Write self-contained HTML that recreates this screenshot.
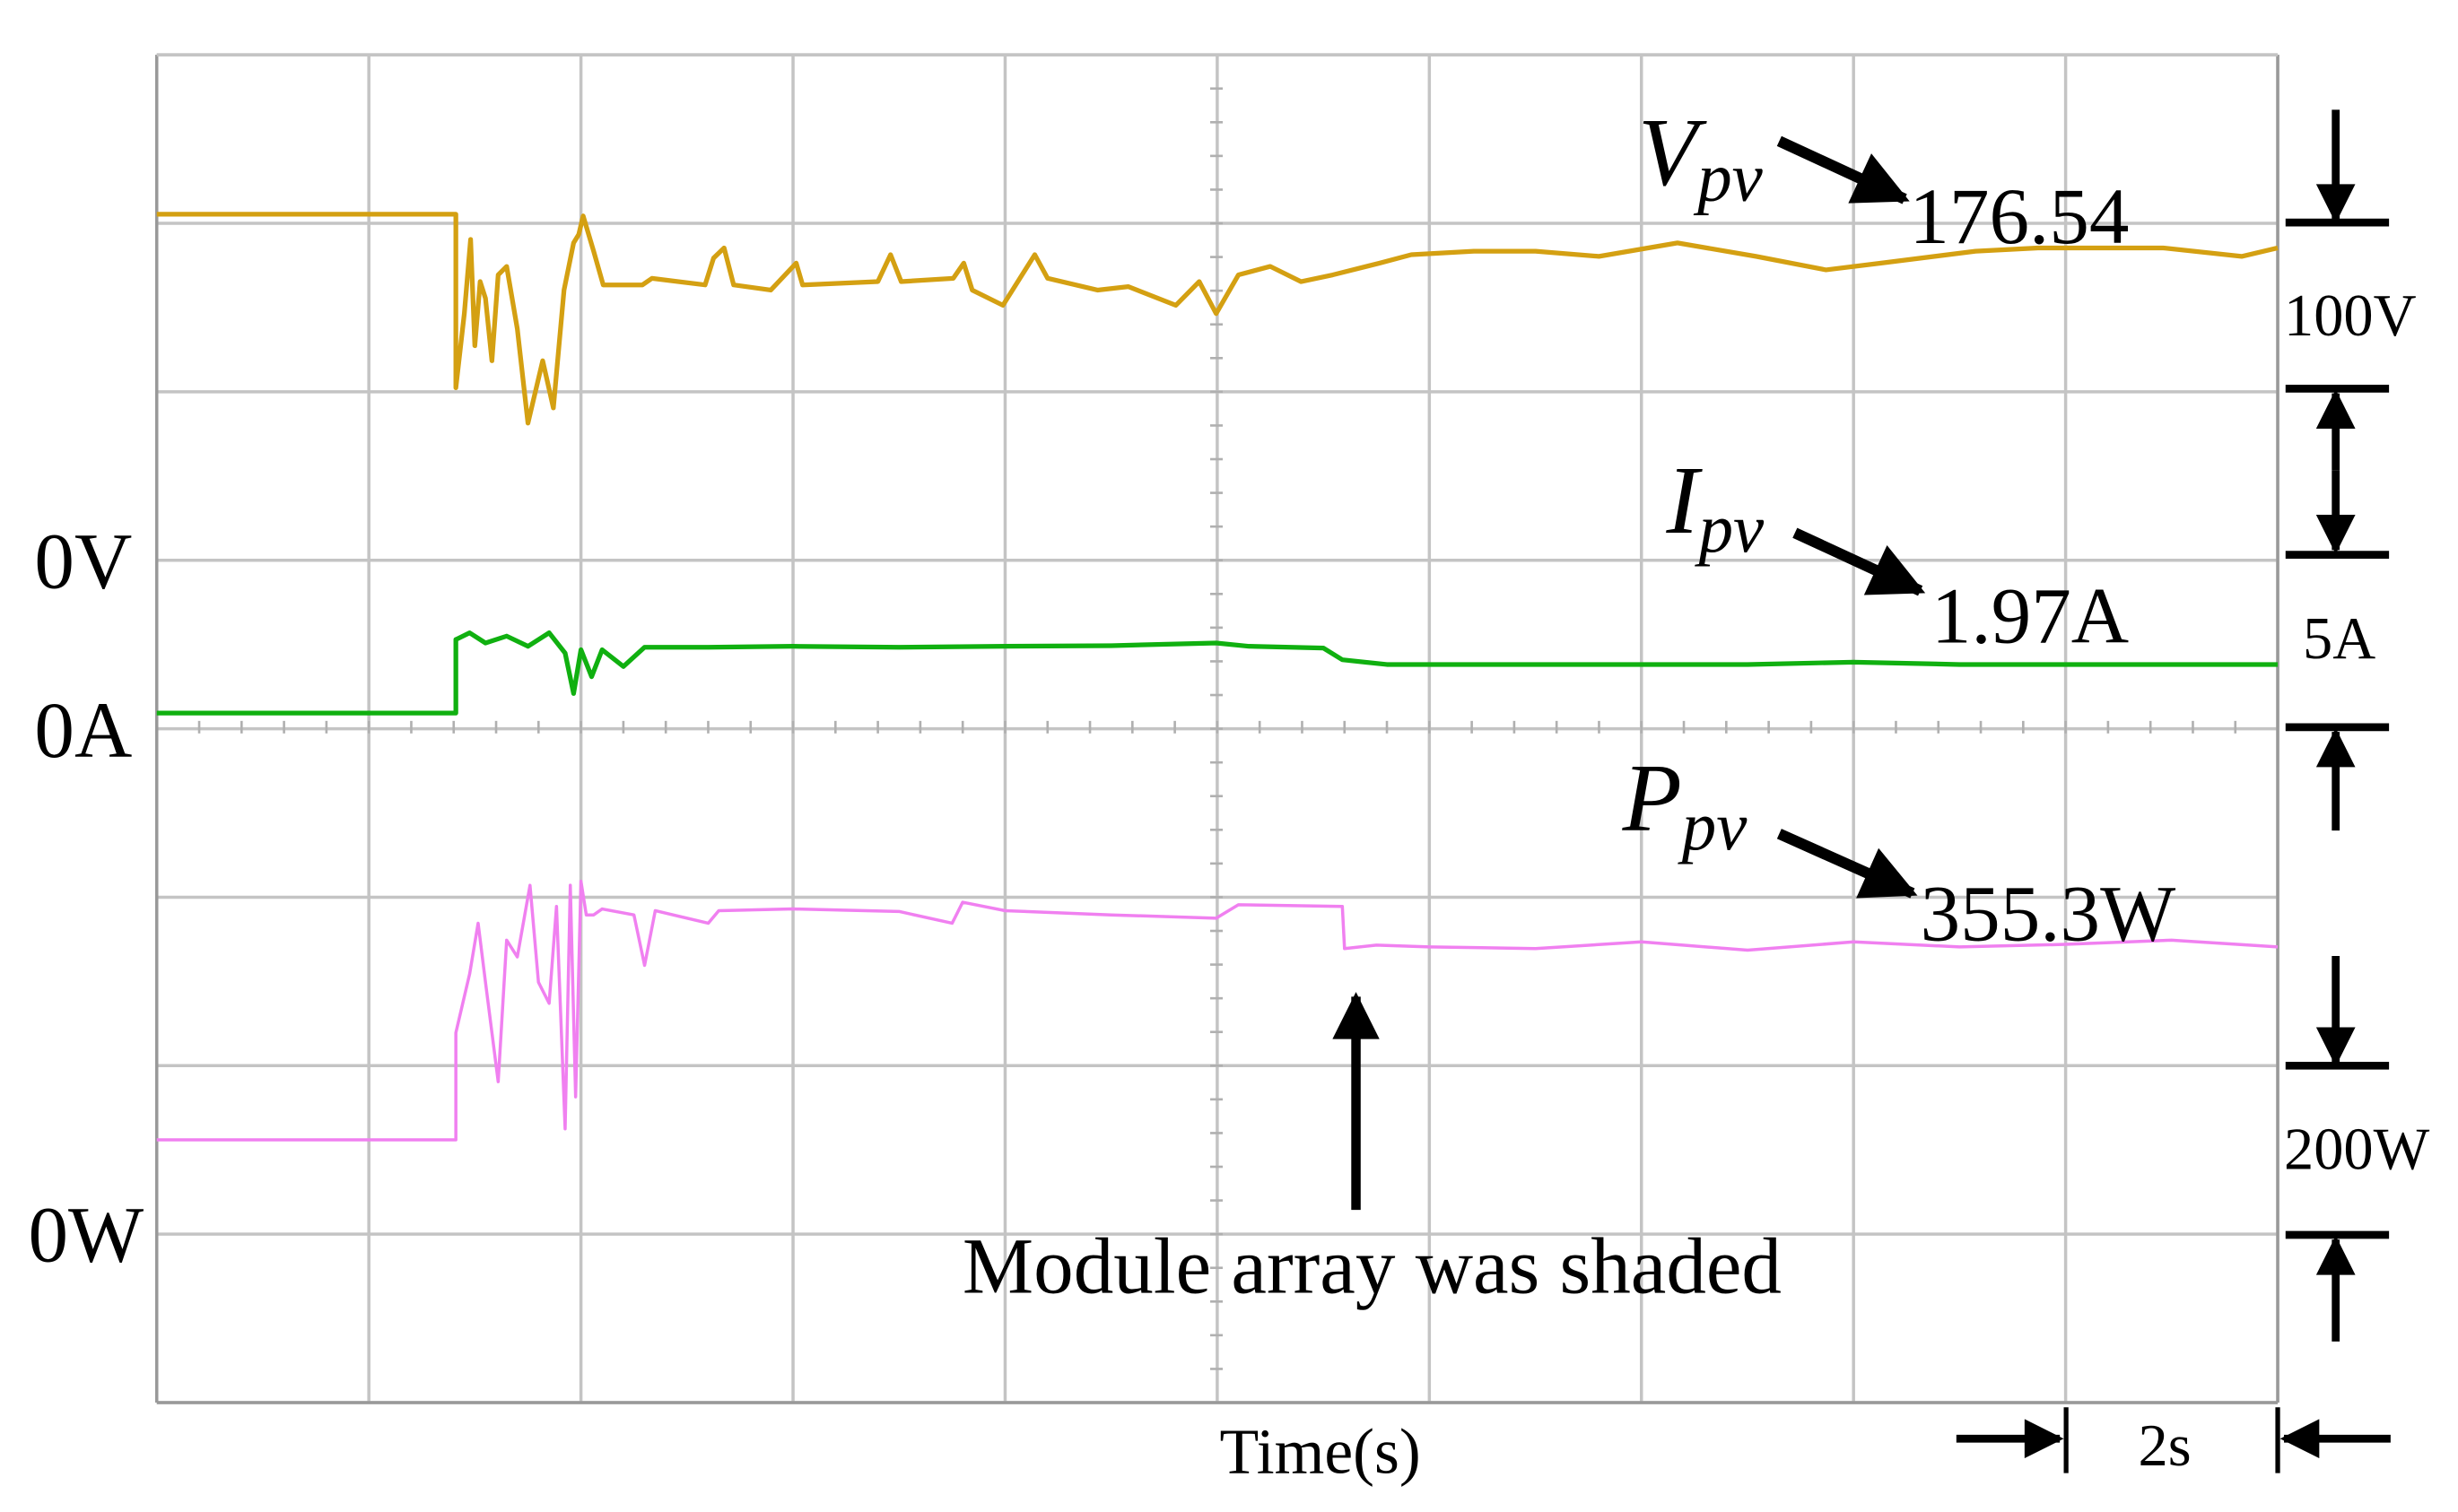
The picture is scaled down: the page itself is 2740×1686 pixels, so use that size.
<!DOCTYPE html>
<html><head><meta charset="utf-8"><style>
html,body{margin:0;padding:0;background:#fff}
svg{display:block}
text{font-family:"Liberation Serif",serif;fill:#000}
</style></head><body>
<svg id="chart" width="2740" height="1686" viewBox="0 0 1568 964.8" preserveAspectRatio="none" xmlns="http://www.w3.org/2000/svg">
<defs>
<marker id="ah" viewBox="0 0 10 10" refX="9" refY="5" markerWidth="5.5" markerHeight="5" orient="auto-start-reverse"><path d="M0,0 L10,5 L0,10 z" fill="#000"/></marker>
</defs>
<g id="grid"></g>
<g id="traces"></g>
<g>
<text x="22" y="375" font-size="51">0V</text>
<text x="22" y="483" font-size="51">0A</text>
<text x="18" y="805" font-size="51">0W</text>
</g>
<g stroke="#000">
<text x="1045" y="118" font-size="62" font-style="italic" stroke="none">V<tspan font-size="44" dy="10">pv</tspan></text>
<line x1="1135" y1="90" x2="1215" y2="127" stroke-width="7" marker-end="url(#ah)"/>
<text x="1218" y="155" font-size="51" stroke="none">176.54</text>
<text x="1063" y="340" font-size="62" font-style="italic" stroke="none">I<tspan font-size="44" dy="12">pv</tspan></text>
<line x1="1145" y1="340" x2="1225" y2="377" stroke-width="7" marker-end="url(#ah)"/>
<text x="1232" y="410" font-size="51" stroke="none">1.97A</text>
<text x="1035" y="530" font-size="62" font-style="italic" stroke="none">P<tspan font-size="44" dy="12">pv</tspan></text>
<line x1="1135" y1="532" x2="1220" y2="570" stroke-width="7" marker-end="url(#ah)"/>
<text x="1225" y="600" font-size="51" stroke="none">355.3W</text>
<line x1="865" y1="772" x2="865" y2="636" stroke-width="6" marker-end="url(#ah)"/>
<text x="614" y="825" font-size="51" stroke="none">Module array was shaded</text>
<text x="778" y="940" font-size="41" stroke="none">Time(s)</text>
</g>
<g stroke="#000" stroke-width="5">
<line x1="1458" y1="142" x2="1524" y2="142"/><line x1="1490" y1="70" x2="1490" y2="140" marker-end="url(#ah)"/>
<text x="1457" y="214" font-size="38" stroke="none">100V</text>
<line x1="1458" y1="248" x2="1524" y2="248"/><line x1="1490" y1="300" x2="1490" y2="251" marker-end="url(#ah)"/><line x1="1490" y1="300" x2="1490" y2="351" marker-end="url(#ah)"/>
<line x1="1458" y1="354" x2="1524" y2="354"/>
<text x="1469" y="420" font-size="38" stroke="none">5A</text>
<line x1="1458" y1="464" x2="1524" y2="464"/><line x1="1490" y1="530" x2="1490" y2="467" marker-end="url(#ah)"/>
<line x1="1490" y1="610" x2="1490" y2="678" marker-end="url(#ah)"/><line x1="1458" y1="680" x2="1524" y2="680"/>
<text x="1457" y="746" font-size="38" stroke="none">200W</text>
<line x1="1458" y1="788" x2="1524" y2="788"/><line x1="1490" y1="856" x2="1490" y2="791" marker-end="url(#ah)"/>
<line x1="1248" y1="918" x2="1314" y2="918" marker-end="url(#ah)"/>
<line x1="1318" y1="898" x2="1318" y2="940" stroke-width="3"/>
<line x1="1453" y1="898" x2="1453" y2="940" stroke-width="3"/>
<line x1="1525" y1="918" x2="1457" y2="918" marker-end="url(#ah)"/>
<text x="1364" y="935" font-size="38" stroke="none">2s</text>
</g>
</svg>
<script>
const vTime=[0,2.82,2.82,2.90,2.96,3.00,3.05,3.10,3.16,3.22,3.30,3.40,3.50,3.64,3.74,3.84,3.93,3.98,4.02,4.12,4.21,4.58,4.67,5.17,5.25,5.35,5.44,5.79,6.03,6.09,6.80,6.92,7.02,7.51,7.61,7.69,7.98,8.28,8.40,8.87,9.16,9.61,9.83,9.99,10.2,10.5,10.79,11.09,11.53,11.83,12.42,13.0,13.6,14.34,15.08,15.74,16.26,17.15,17.74,18.92,19.66,20];
const vValues=[204,204,101,145,189,126,164,154,117,168,173,136,80,117,89,159,187,192,203,182,162,162,166,162,178,184,162,159,175,162,164,180,164,166,175,159,150,180,166,159,161,150,164,145,168,173,164,168,175,180,182,182,179,187,179,171,175,182,184,184,179,184];
const iTime=[0,2.82,2.82,2.95,3.1,3.3,3.5,3.7,3.85,3.93,4.0,4.1,4.2,4.4,4.6,5.2,6,7,8,9,9.99,10.3,11.0,11.18,11.6,12,15,16,17,18,20];
const iValues=[0.42,0.42,2.6,2.8,2.5,2.7,2.4,2.8,2.2,1.0,2.3,1.5,2.3,1.8,2.37,2.37,2.4,2.37,2.4,2.42,2.5,2.4,2.35,2.0,1.86,1.86,1.86,1.93,1.86,1.86,1.86];
const pTime=[0,2.82,2.82,2.95,3.03,3.1,3.22,3.3,3.4,3.52,3.6,3.7,3.77,3.85,3.9,3.95,4.0,4.05,4.12,4.2,4.5,4.6,4.7,5.2,5.3,6,7,7.5,7.6,8,9,9.99,10.2,11.18,11.2,11.5,12,13,14,15,16,17,18,19,20];
const pValues=[113,113,240,310,370,300,182,350,330,415,300,275,390,126,415,164,420,380,380,387,380,320,385,370,385,387,384,370,395,385,380,376,392,390,340,344,342,340,348,338,348,342,345,350,342];
const NS='http://www.w3.org/2000/svg';
const X0=100,X1=1453,Y0=35,Y1=895,TMAX=20;
const xOf=t=>X0+(t/TMAX)*(X1-X0);
const divH=(Y1-Y0)/8;
const yV=v=>356-v/100*divH;
const yI=a=>464-a/5*divH;
const yP=w=>788-w/200*divH;
const grid=document.getElementById('grid');
function ln(x1,y1,x2,y2,c,w,p){const l=document.createElementNS(NS,'line');l.setAttribute('x1',x1);l.setAttribute('y1',y1);l.setAttribute('x2',x2);l.setAttribute('y2',y2);l.setAttribute('stroke',c);l.setAttribute('stroke-width',w);p.appendChild(l);return l;}
for(let i=0;i<=10;i++){const x=X0+i*(X1-X0)/10;const l=ln(x,Y0,x,Y1,'#c4c4c4',2,grid);

}
for(let j=0;j<=8;j++){const y=Y0+j*divH;const l=ln(X0,y,X1,y,'#c4c4c4',2,grid);

}
for(let k=1;k<50;k++){const x=X0+k*(X1-X0)/50;ln(x,460,x,468,'#b0b0b0',1.5,grid);}
for(let k=1;k<40;k++){const y=Y0+k*divH/5;ln(772,y,780,y,'#b0b0b0',1.5,grid);}
ln(X0,Y0,X0,Y1,'#999',2,grid);ln(X1,Y0,X1,Y1,'#999',2,grid);ln(X0,Y1,X1,Y1,'#999',2,grid);ln(X0,Y0,X1,Y0,'#c4c4c4',2,grid);
const tr=document.getElementById('traces');
function trace(ts,vs,yf,c,w,name){const p=document.createElementNS(NS,'path');let d='';
for(let i=0;i<ts.length;i++){d+=(i?'L':'M')+xOf(ts[i]).toFixed(1)+','+yf(vs[i]).toFixed(1);}
p.setAttribute('d',d);p.setAttribute('fill','none');p.setAttribute('stroke',c);p.setAttribute('stroke-width',w);p.setAttribute('stroke-linejoin','round');


tr.appendChild(p);}
trace(vTime,vValues,yV,'#d4a012',3,'vpv-trace');
trace(iTime,iValues,yI,'#10b010',3,'ipv-trace');
trace(pTime,pValues,yP,'#f080f0',2,'ppv-trace');
</script>
</body></html>
